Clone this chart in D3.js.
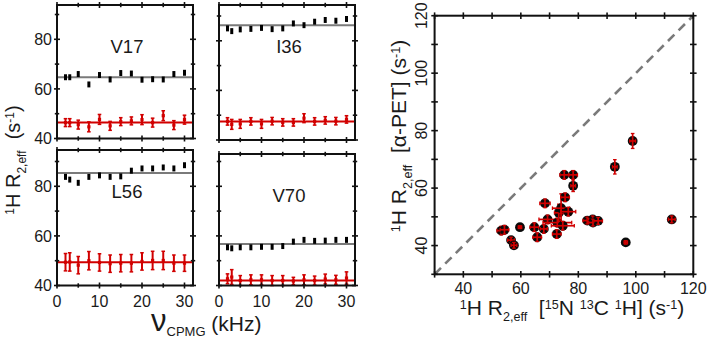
<!DOCTYPE html>
<html><head><meta charset="utf-8">
<script src="https://cdn.jsdelivr.net/npm/d3@7"></script>
<style>
body{margin:0;background:#fff}
text{font-family:"Liberation Sans",Arial,sans-serif;white-space:pre;fill:#1a1a1a}
</style>
</head><body>
<svg id="c" width="709" height="340"></svg>
<script>
// ---------------- DATA ----------------
const nuCPMG = [2, 3, 5, 7.5, 10, 12.5, 15, 17.5, 20, 22.5, 25, 27.5, 30];
const panelNames = ["V17", "I36", "L56", "V70"];

const v17Black = [64.7, 64.7, 66.0, 61.8, 65.6, 63.8, 66.4, 66.2, 63.7, 63.9, 63.8, 66.0, 66.5];
const v17Red   = [46.4, 46.4, 45.6, 44.7, 47.7, 45.1, 46.8, 47.1, 47.6, 46.4, 49.2, 45.4, 47.6];
const v17RedErr = [1.6, 1.6, 1.8, 2.0, 2.0, 1.8, 1.6, 1.6, 2.0, 1.8, 2.0, 1.8, 1.8];
const v17Fits = [64.7, 46.5];

const i36Black = [85.0, 83.9, 84.6, 84.8, 85.2, 84.7, 85.0, 87.0, 86.3, 87.7, 88.4, 88.1, 88.8];
const i36Red   = [47.5, 46.3, 46.5, 47.5, 46.5, 47.6, 47.1, 47.1, 48.8, 47.5, 47.9, 47.6, 48.3];
const i36RedErr = [1.5, 2.0, 1.8, 1.5, 1.8, 1.5, 1.5, 1.5, 1.8, 1.5, 1.5, 1.5, 1.5];
const i36Fits = [86.3, 47.5];

const l56Black = [83.8, 82.7, 81.4, 83.8, 84.4, 83.8, 84.0, 86.3, 87.2, 87.2, 87.6, 87.2, 88.5];
const l56Red   = [49.4, 49.5, 48.2, 50.0, 49.3, 48.8, 49.0, 49.0, 49.7, 50.1, 50.1, 49.0, 49.0];
const l56RedErr = [3.5, 3.7, 3.5, 3.7, 3.5, 3.5, 3.5, 3.5, 3.5, 3.7, 3.7, 3.3, 3.3];
const l56Fits = [85.4, 49.4];

const v70Black = [55.4, 55.0, 55.4, 55.4, 55.6, 55.6, 55.9, 57.7, 58.4, 58.0, 58.1, 58.4, 58.4];
const v70Red   = [42.7, 43.4, 42.0, 42.3, 42.3, 42.0, 42.0, 41.8, 42.3, 42.0, 42.6, 42.3, 43.0];
const v70RedErr = [2.0, 3.0, 2.0, 2.0, 2.0, 2.0, 2.0, 1.5, 2.0, 1.8, 2.0, 1.8, 2.5];
const v70Fits = [56.7, 42.0];

const blackErr = 1.2;
const nuTicks = [0, 5, 10, 15, 20, 25, 30];
const nuLabels = [0, 10, 20, 30];
const r2Ticks = [40, 50, 60, 70, 80, 90];
const r2Labels = [40, 60, 80];

// scatter: x = 15N13C1H, y = alpha-PET
const scX    = [53.2, 54.3, 56.6, 57.6, 59.7, 64.7, 65.7, 68.0, 68.4, 69.3, 72.5, 72.7, 73.2, 74.0, 74.6, 75.4, 75.1, 76.5, 78.2, 78.2, 83.1, 85.0, 85.1, 86.9, 92.7, 96.5, 98.9, 112.5];
const scY    = [45.2, 45.5, 41.9, 40.1, 46.4, 46.4, 42.9, 45.8, 54.7, 49.1, 44.0, 48.0, 51.4, 53.0, 46.9, 56.8, 64.6, 51.8, 64.6, 60.8, 48.7, 49.1, 48.0, 48.6, 67.4, 41.1, 76.4, 49.1];
const scXErr = [1.5, 1.5, 1.2, 1.0, 0.6, 1.5, 1.5, 1.2, 1.8, 3.0, 1.5, 5.0, 1.5, 3.0, 4.0, 1.5, 1.5, 2.6, 1.5, 0.8, 1.5, 1.5, 1.5, 1.5, 0.8, 0.6, 1.0, 1.2];
const scYErr = [1.5, 1.5, 1.0, 1.0, 0.5, 1.5, 1.5, 1.5, 1.5, 1.5, 1.5, 1.5, 3.0, 5.0, 1.5, 1.5, 1.5, 1.5, 1.5, 2.0, 1.2, 1.2, 1.2, 1.2, 2.5, 0.6, 2.6, 1.2];
const scTicks = [30, 40, 50, 60, 70, 80, 90, 100, 110, 120];
const scLabels = [40, 60, 80, 100, 120];

// ---------------- DRAW ----------------
const svg = d3.select("#c");
const RED = "#d10000";

function richText(sel, parts, size) {
  let off = 0;
  parts.forEach(p => {
    const target = p.s === "sup" ? -0.3 * size : p.s === "sub" ? 0.28 * size : 0;
    sel.append("tspan").attr("dy", target - off)
      .attr("font-size", p.s ? size * 0.6 : size).text(p.t);
    off = target;
  });
}

const panelData = {
  V17: {black: v17Black, red: v17Red, redErr: v17RedErr, fits: v17Fits},
  I36: {black: i36Black, red: i36Red, redErr: i36RedErr, fits: i36Fits},
  L56: {black: l56Black, red: l56Red, redErr: l56RedErr, fits: l56Fits},
  V70: {black: v70Black, red: v70Red, redErr: v70RedErr, fits: v70Fits}
};
const boxes = {
  V17: {x0: 57, x1: 193, y0: 5, y1: 138.5, left: true, bottom: false},
  I36: {x0: 219, x1: 355, y0: 5, y1: 140, left: false, bottom: false},
  L56: {x0: 57, x1: 193, y0: 150, y1: 285.5, left: true, bottom: true},
  V70: {x0: 219, x1: 355, y0: 154, y1: 285.5, left: false, bottom: true}
};

panelNames.forEach(name => {
  const b = boxes[name], d = panelData[name];
  const x = d3.scaleLinear().domain([0, 32]).range([b.x0, b.x1]);
  const y = d3.scaleLinear().domain([40, 40 + (b.y1 - b.y0) / 2.48]).range([b.y1, b.y0]);
  const g = svg.append("g");

  g.append("line").attr("x1", x(0)).attr("x2", x(32)).attr("y1", y(d.fits[0])).attr("y2", y(d.fits[0]))
    .attr("stroke", "#7a7a7a").attr("stroke-width", 2);
  g.append("line").attr("x1", x(0)).attr("x2", x(32)).attr("y1", y(d.fits[1])).attr("y2", y(d.fits[1]))
    .attr("stroke", RED).attr("stroke-width", 2);

  g.selectAll(".bk").data(nuCPMG).enter().append("rect")
    .attr("x", v => x(v) - 1.5).attr("width", 3)
    .attr("y", (v, i) => y(d.black[i] + blackErr)).attr("height", (v, i) => y(d.black[i] - blackErr) - y(d.black[i] + blackErr))
    .attr("fill", "#000");

  const rg = g.selectAll(".rd").data(nuCPMG).enter().append("g");
  rg.append("line").attr("x1", v => x(v)).attr("x2", v => x(v))
    .attr("y1", (v, i) => y(d.red[i] - d.redErr[i])).attr("y2", (v, i) => y(d.red[i] + d.redErr[i]))
    .attr("stroke", RED).attr("stroke-width", 2);
  [-1, 1].forEach(s => {
    rg.append("line").attr("x1", v => x(v) - 1.8).attr("x2", v => x(v) + 1.8)
      .attr("y1", (v, i) => y(d.red[i] + s * d.redErr[i])).attr("y2", (v, i) => y(d.red[i] + s * d.redErr[i]))
      .attr("stroke", RED).attr("stroke-width", 1.5);
  });
  rg.append("rect").attr("x", v => x(v) - 1.6).attr("width", 3.2)
    .attr("y", (v, i) => y(d.red[i]) - 1.6).attr("height", 3.2).attr("fill", RED);

  g.append("rect").attr("x", b.x0).attr("y", b.y0).attr("width", b.x1 - b.x0).attr("height", b.y1 - b.y0)
    .attr("fill", "none").attr("stroke", "#111").attr("stroke-width", 2);

  nuTicks.forEach(t => {
    const L = nuLabels.includes(t) ? 3 : 2.2;
    [b.y0, b.y1].forEach(yy => g.append("line").attr("x1", x(t)).attr("x2", x(t))
      .attr("y1", yy - L).attr("y2", yy + L).attr("stroke", "#111").attr("stroke-width", 1.6));
  });
  r2Ticks.forEach(t => {
    if (y(t) < b.y0 - 0.5) return;
    const L = r2Labels.includes(t) ? 3 : 2.2;
    [b.x0, b.x1].forEach(xx => g.append("line").attr("y1", y(t)).attr("y2", y(t))
      .attr("x1", xx - L).attr("x2", xx + L).attr("stroke", "#111").attr("stroke-width", 1.6));
  });
  if (b.bottom) {
    nuLabels.forEach(t => g.append("text").attr("x", x(t)).attr("y", 307).attr("text-anchor", "middle")
      .attr("font-size", 16).text(t));
  }
  if (b.left) {
    r2Labels.forEach(t => g.append("text").attr("x", 52).attr("y", y(t)).attr("dy", "0.36em")
      .attr("text-anchor", "end").attr("font-size", 16).text(t));
  }
  g.append("text").attr("x", (b.x0 + b.x1) / 2 + 2).attr("y", b.y0 + 48).attr("text-anchor", "middle")
    .attr("font-size", 18.5).text(name);
});

// left axis titles
const lyt = svg.append("text").attr("transform", "translate(20,160) rotate(-90)")
  .attr("text-anchor", "middle");
richText(lyt, [{t: "1", s: "sup"}, {t: "H R"}, {t: "2,eff", s: "sub"}, {t: "  (s"}, {t: "-1", s: "sup"}, {t: ")"}], 20);

const lxt = svg.append("text").attr("x", 151).attr("y", 331);
lxt.append("tspan").attr("font-size", 31).text("ν");
lxt.append("tspan").attr("font-size", 13).attr("dy", 5).text("CPMG");
lxt.append("tspan").attr("font-size", 21).attr("dy", -5).text(" (kHz)");

// ---------------- SCATTER ----------------
const sx = d3.scaleLinear().domain([30, 120]).range([434.6, 693.3]);
const sy = d3.scaleLinear().domain([30, 120]).range([274.3, 15.7]);
const sg = svg.append("g");

sg.append("line").attr("x1", sx(30)).attr("y1", sy(30)).attr("x2", sx(120)).attr("y2", sy(120))
  .attr("stroke", "#7a7a7a").attr("stroke-width", 2.6).attr("stroke-dasharray", "9,6");

const pts = sg.selectAll(".pt").data(scX).enter().append("g");
pts.append("circle").attr("cx", v => sx(v)).attr("cy", (v, i) => sy(scY[i])).attr("r", 4.9)
  .attr("fill", "#0a0a0a");
pts.append("line").attr("x1", (v, i) => sx(v - scXErr[i])).attr("x2", (v, i) => sx(v + scXErr[i]))
  .attr("y1", (v, i) => sy(scY[i])).attr("y2", (v, i) => sy(scY[i])).attr("stroke", RED).attr("stroke-width", 1.7);
pts.append("line").attr("x1", v => sx(v)).attr("x2", v => sx(v))
  .attr("y1", (v, i) => sy(scY[i] - scYErr[i])).attr("y2", (v, i) => sy(scY[i] + scYErr[i]))
  .attr("stroke", RED).attr("stroke-width", 1.7);
[-1, 1].forEach(s => {
  pts.append("line").attr("x1", (v, i) => sx(v + s * scXErr[i])).attr("x2", (v, i) => sx(v + s * scXErr[i]))
    .attr("y1", (v, i) => sy(scY[i]) - 1.8).attr("y2", (v, i) => sy(scY[i]) + 1.8).attr("stroke", RED).attr("stroke-width", 1.3);
  pts.append("line").attr("y1", (v, i) => sy(scY[i] + s * scYErr[i])).attr("y2", (v, i) => sy(scY[i] + s * scYErr[i]))
    .attr("x1", v => sx(v) - 1.8).attr("x2", v => sx(v) + 1.8).attr("stroke", RED).attr("stroke-width", 1.3);
});

sg.append("rect").attr("x", sx(30)).attr("y", sy(120)).attr("width", sx(120) - sx(30)).attr("height", sy(30) - sy(120))
  .attr("fill", "none").attr("stroke", "#111").attr("stroke-width", 2);
scTicks.forEach(t => {
  [sy(30), sy(120)].forEach(yy => sg.append("line").attr("x1", sx(t)).attr("x2", sx(t))
    .attr("y1", yy - 3.3).attr("y2", yy + 3.3).attr("stroke", "#111").attr("stroke-width", 1.6));
  [sx(30), sx(120)].forEach(xx => sg.append("line").attr("y1", sy(t)).attr("y2", sy(t))
    .attr("x1", xx - 3.3).attr("x2", xx + 3.3).attr("stroke", "#111").attr("stroke-width", 1.6));
});
scLabels.forEach(t => {
  sg.append("text").attr("x", sx(t)).attr("y", 293.5).attr("text-anchor", "middle").attr("font-size", 16).text(t);
  sg.append("text").attr("transform", `translate(427,${sy(t)}) rotate(-90)`).attr("text-anchor", "middle")
    .attr("font-size", 16).text(t);
});

const sxt = sg.append("text").attr("x", 572).attr("y", 315).attr("text-anchor", "middle");
richText(sxt, [{t: "1", s: "sup"}, {t: "H R"}, {t: "2,eff", s: "sub"}, {t: "  ["}, {t: "15", s: "sup"}, {t: "N "},
  {t: "13", s: "sup"}, {t: "C "}, {t: "1", s: "sup"}, {t: "H] (s"}, {t: "-1", s: "sup"}, {t: ")"}], 21);

const syt = sg.append("text").attr("transform", "translate(406,136) rotate(-90)").attr("text-anchor", "middle");
richText(syt, [{t: "1", s: "sup"}, {t: "H R"}, {t: "2,eff", s: "sub"}, {t: "  [α-PET] (s"}, {t: "-1", s: "sup"}, {t: ")"}], 21);
</script>
</body></html>
